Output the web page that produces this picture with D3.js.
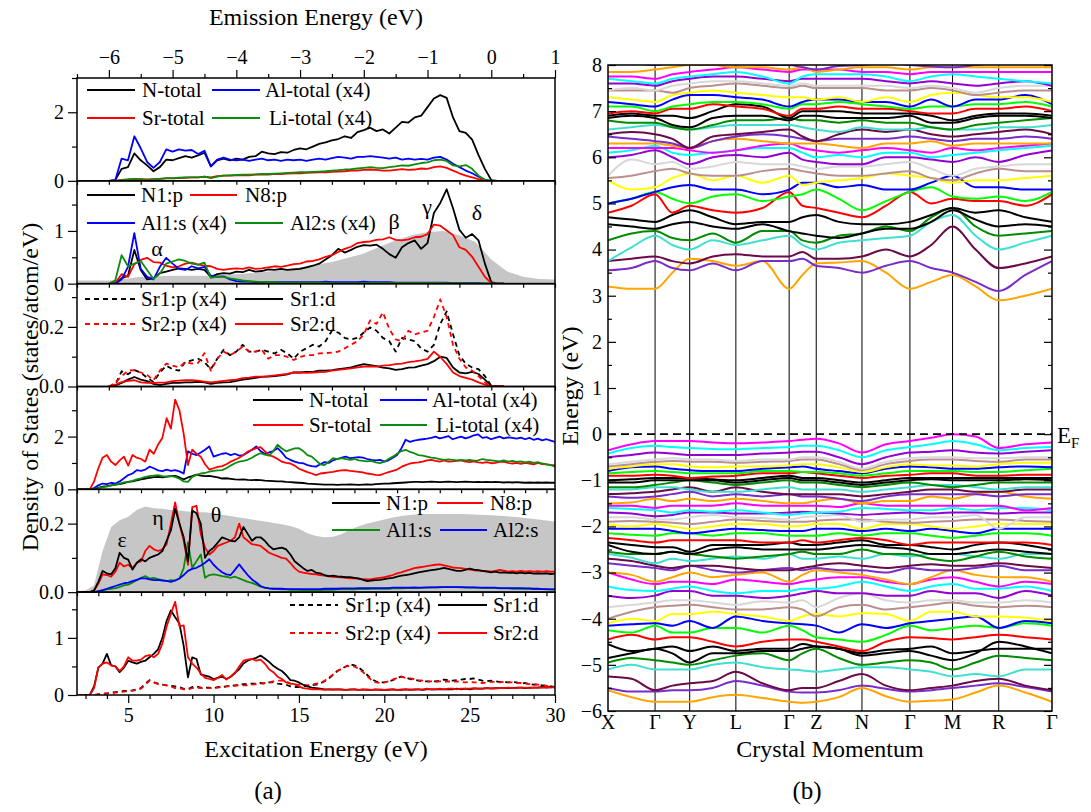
<!DOCTYPE html>
<html>
<head>
<meta charset="utf-8">
<script src="https://cdn.jsdelivr.net/npm/d3@7"></script>
<style>
    body { margin: 0; background: #fff; }
    svg text { font-family: "Liberation Serif", "DejaVu Serif", serif; fill: #000; }
</style>
</head>
<body>
<div id="chart"></div>
<script>

// ---------------- data: emission panels (grid -6.0 .. 0.2 eV, step 0.1) ----------------
const emStart = -6.0, emStep = 0.1;

const nTotalEm = [0,0.02,0.35,0.4,0.8,0.6,0.45,0.28,0.4,0.62, 0.6,0.66,0.72,0.68,0.74,0.82,0.42,0.6,0.65,0.6,
    0.65,0.62,0.7,0.72,0.85,0.8,0.78,0.84,0.82,0.9, 0.95,0.92,1.0,1.08,1.12,1.18,1.22,1.3,1.25,1.42,
    1.48,1.55,1.45,1.5,1.38,1.55,1.72,1.7,1.85,1.9, 2.15,2.4,2.5,2.42,1.85,1.45,1.4,1.2,0.75,0.35, 0.02,0,0];
const alTotalEm = [0,0.02,0.65,0.6,1.3,0.95,0.55,0.38,0.55,0.92, 0.85,0.92,0.88,0.9,0.78,0.88,0.42,0.62,0.68,0.62,
    0.6,0.62,0.58,0.62,0.65,0.6,0.62,0.58,0.62,0.6, 0.62,0.58,0.62,0.65,0.62,0.66,0.7,0.68,0.65,0.7,
    0.7,0.72,0.7,0.68,0.65,0.68,0.62,0.65,0.62,0.64, 0.62,0.68,0.7,0.62,0.5,0.4,0.3,0.22,0.12,0.03, 0,0,0];
const srTotalEm = [0,0,0.03,0.04,0.06,0.05,0.04,0.05,0.06,0.07, 0.07,0.08,0.09,0.1,0.1,0.12,0.1,0.14,0.15,0.15,
    0.16,0.17,0.16,0.18,0.19,0.18,0.2,0.2,0.21,0.22, 0.22,0.23,0.24,0.25,0.25,0.26,0.27,0.28,0.3,0.3,
    0.32,0.33,0.32,0.3,0.3,0.32,0.34,0.32,0.33,0.36, 0.35,0.4,0.42,0.38,0.3,0.22,0.15,0.1,0.05,0.02, 0,0,0];
const liTotalEm = [0,0,0.02,0.04,0.05,0.04,0.03,0.04,0.06,0.08, 0.08,0.09,0.1,0.1,0.1,0.12,0.08,0.12,0.15,0.16,
    0.17,0.18,0.18,0.19,0.2,0.2,0.21,0.22,0.23,0.24, 0.25,0.25,0.26,0.27,0.28,0.3,0.31,0.33,0.34,0.36,
    0.38,0.4,0.38,0.37,0.4,0.42,0.45,0.44,0.48,0.52, 0.54,0.6,0.62,0.58,0.45,0.42,0.46,0.35,0.15,0.03, 0,0,0];

const n1pEm = [0,0.01,0.1,0.15,0.64,0.26,0.08,0.1,0.2,0.23, 0.26,0.29,0.28,0.26,0.28,0.26,0.13,0.18,0.2,0.19,
    0.23,0.22,0.26,0.23,0.24,0.27,0.26,0.28,0.26,0.27, 0.28,0.31,0.34,0.38,0.46,0.54,0.66,0.59,0.64,0.7,
    0.73,0.72,0.74,0.66,0.56,0.49,0.69,0.77,0.82,0.66, 0.77,1.34,1.53,1.79,1.43,1.02,0.87,0.94,0.82,0.38, 0.03,0,0];
const n8pEm = [0,0.01,0.18,0.13,0.37,0.45,0.49,0.41,0.4,0.34, 0.31,0.33,0.38,0.4,0.36,0.34,0.33,0.28,0.26,0.28,
    0.29,0.28,0.31,0.28,0.29,0.31,0.33,0.32,0.34,0.37, 0.38,0.42,0.43,0.46,0.51,0.54,0.6,0.66,0.7,0.77,
    0.79,0.8,0.83,0.84,0.88,0.83,0.82,0.84,0.88,0.89, 0.94,1.12,1.1,1.01,0.92,0.69,0.64,0.51,0.32,0.13, 0.01,0,0];
const al1sEm = [0,0,0.08,0.32,0.96,0.28,0.13,0.08,0.32,0.49, 0.38,0.28,0.26,0.33,0.29,0.32,0.15,0.13,0.14,0.08,
    0.05,0.04,0.04,0.03,0.03,0.03,0.03,0.03,0.03,0.03, 0.03,0.03,0.03,0.03,0.04,0.03,0.03,0.03,0.03,0.03,
    0.04,0.03,0.03,0.03,0.03,0.02,0.02,0.02,0.02,0.02, 0.02,0.02,0.02,0.02,0.01,0.01,0.01,0.01,0.01,0, 0,0,0];
const al2sEm = [0,0.06,0.54,0.33,0.38,0.43,0.26,0.09,0.19,0.38, 0.42,0.46,0.43,0.38,0.36,0.4,0.11,0.14,0.13,0.1,
    0.08,0.06,0.05,0.04,0.03,0.03,0.03,0.02,0.02,0.02, 0.02,0.02,0.02,0.02,0.02,0.01,0.01,0.01,0.01,0.01,
    0.013,0.013,0.013,0.013,0.013,0.013,0.013,0.013,0.013,0.013, 0.013,0.013,0.013,0.01,0.01,0.008,0.006,0.005,0.004,0.003, 0,0,0];

const sr1pEm = [0,0.006,0.051,0.041,0.055,0.047,0.029,0.015,0.047,0.07, 0.058,0.053,0.082,0.088,0.093,0.082,0.058,0.093,0.123,0.105,
    0.117,0.14,0.117,0.117,0.123,0.117,0.111,0.123,0.111,0.093, 0.117,0.128,0.14,0.134,0.152,0.187,0.181,0.163,0.158,0.163,
    0.181,0.198,0.187,0.163,0.152,0.117,0.163,0.158,0.152,0.128, 0.117,0.14,0.21,0.252,0.175,0.105,0.076,0.064,0.058,0.035, 0.002,0,0];
const sr2pEm = [0,0.012,0.035,0.053,0.055,0.047,0.039,0.021,0.053,0.077, 0.07,0.064,0.082,0.077,0.079,0.112,0.053,0.093,0.117,0.105,
    0.117,0.134,0.117,0.117,0.123,0.093,0.105,0.105,0.099,0.089, 0.099,0.105,0.105,0.111,0.112,0.114,0.117,0.128,0.14,0.152,
    0.175,0.222,0.21,0.249,0.193,0.158,0.152,0.187,0.175,0.181, 0.187,0.233,0.292,0.233,0.14,0.093,0.064,0.053,0.035,0.014, 0,0,0];
const sr1dEm = [0,0.004,0.012,0.023,0.032,0.023,0.018,0.009,0.005,0.009, 0.012,0.012,0.014,0.014,0.016,0.014,0.009,0.012,0.014,0.015,
    0.019,0.023,0.026,0.029,0.032,0.033,0.035,0.037,0.041,0.047, 0.047,0.049,0.049,0.053,0.053,0.055,0.058,0.061,0.064,0.07,
    0.075,0.072,0.068,0.063,0.061,0.056,0.058,0.063,0.064,0.07, 0.075,0.085,0.1,0.096,0.064,0.047,0.044,0.049,0.042,0.023, 0.002,0,0];
const sr2dEm = [0,0.006,0.015,0.019,0.021,0.014,0.012,0.012,0.013,0.014, 0.018,0.02,0.021,0.021,0.02,0.016,0.014,0.016,0.019,0.021,
    0.023,0.028,0.03,0.033,0.033,0.035,0.037,0.04,0.042,0.047, 0.047,0.046,0.047,0.048,0.049,0.053,0.056,0.058,0.061,0.064,
    0.067,0.068,0.067,0.07,0.072,0.075,0.077,0.082,0.084,0.088, 0.093,0.117,0.099,0.076,0.047,0.035,0.029,0.023,0.014,0.006, 0,0,0];

// broadened total (grey), grid -6.5 .. 1.0 eV, step 0.25
const greyEmStart = -6.5, greyEmStep = 0.25;
const greyEm = [0.06,0.06,0.06,0.09,0.13,0.14,0.15,0.15,0.15,0.17, 0.18,0.2,0.23,0.27,0.31,0.36,0.41,0.49,0.57,0.7,
    0.82,0.92,0.98,1.0,0.92,0.79,0.46,0.23,0.13,0.09, 0.08];

// ---------------- data: excitation panels (grid 2 .. 30 eV, step 0.25) ----------------
const exStart = 2, exStep = 0.25;

const nTotalEx = [0,0,0,0,0.02,0.06,0.1,0.12, 0.15,0.18,0.2,0.24,0.28,0.3,0.34,0.38, 0.41,0.44,0.46,0.47,0.45,0.48,0.5,0.51,
    0.45,0.38,0.45,0.5,0.56,0.52,0.5,0.51, 0.48,0.45,0.41,0.42,0.4,0.38,0.37,0.38, 0.36,0.35,0.36,0.35,0.33,0.32,0.31,0.3,
    0.3,0.28,0.27,0.26,0.25,0.24,0.22,0.21, 0.2,0.19,0.18,0.18,0.18,0.17,0.18,0.18, 0.19,0.18,0.17,0.18,0.19,0.18,0.2,0.21,
    0.22,0.22,0.23,0.24,0.25,0.26,0.27,0.28, 0.28,0.27,0.28,0.29,0.28,0.27,0.28,0.29, 0.28,0.27,0.28,0.29,0.28,0.27,0.28,0.27,
    0.28,0.27,0.28,0.27,0.26,0.27,0.26,0.27, 0.26,0.25,0.26,0.25,0.26,0.25,0.26,0.25, 0.25];
const alTotalEx = [0,0,0,0,0.05,0.15,0.22,0.2, 0.25,0.22,0.3,0.42,0.54,0.6,0.73,0.7, 0.75,0.86,0.8,0.72,0.69,0.75,0.7,0.73,
    0.68,0.6,1.44,1.35,1.3,1.4,1.5,1.63, 1.24,1.3,1.35,1.37,1.3,1.35,1.28,1.3, 1.4,1.5,1.63,1.45,1.35,1.4,1.45,1.56,
    1.4,1.2,1.12,1.05,1.0,0.99,0.92,0.88, 0.86,0.95,1.03,1.0,1.1,1.15,1.2,1.24, 1.18,1.2,1.22,1.2,1.15,1.12,1.1,1.12,
    1.05,1.1,1.2,1.3,1.55,1.88,1.8,1.85, 1.88,1.9,1.92,1.95,2.0,1.93,1.97,2.02, 1.9,1.95,2.0,1.93,1.98,2.05,2.08,1.95,
    1.98,1.9,1.95,2.0,1.93,1.97,1.95,1.92, 1.96,1.9,1.95,1.88,1.92,1.86,1.9,1.85, 1.8];
const srTotalEx = [0,0,0,0,0.3,0.8,1.2,1.3, 1.05,0.92,1.1,1.24,0.9,1.3,1.2,1.15, 1.05,1.5,1.35,1.7,1.95,2.7,2.3,3.4,
    3.0,2.1,0.92,1.5,1.35,1.24,0.95,0.75, 0.8,0.85,0.88,0.95,1.05,1.12,1.2,1.3, 1.43,1.5,1.56,1.6,1.45,1.3,1.24,1.15,
    1.05,1.0,0.98,0.9,0.78,0.72,0.65,0.6, 0.54,0.6,0.62,0.64,0.66,0.7,0.72,0.73, 0.7,0.68,0.66,0.64,0.6,0.58,0.55,0.54,
    0.6,0.65,0.7,0.75,0.85,0.92,0.98,1.0, 1.02,1.05,1.1,1.12,1.08,1.05,1.1,1.05, 1.06,1.08,1.1,1.05,1.03,1.06,1.02,1.0,
    1.03,0.99,1.0,1.04,1.05,1.0,0.98,1.0, 0.97,1.0,0.98,0.95,1.0,0.96,0.95,0.93, 0.92];
const liTotalEx = [0,0,0,0,0.02,0.05,0.08,0.1, 0.15,0.18,0.22,0.26,0.28,0.32,0.38,0.42, 0.47,0.5,0.52,0.54,0.5,0.48,0.5,0.47,
    0.4,0.3,0.28,0.47,0.55,0.6,0.62,0.67, 0.7,0.72,0.73,0.8,0.9,0.99,1.05,1.08, 1.12,1.2,1.3,1.37,1.32,1.28,1.45,1.69,
    1.55,1.44,1.5,1.55,1.56,1.45,1.3,1.24, 1.1,0.95,0.92,1.05,1.18,1.15,1.18,1.15, 1.12,1.15,1.1,1.08,1.06,1.08,1.02,0.99,
    1.05,1.15,1.24,1.35,1.45,1.5,1.42,1.37, 1.3,1.28,1.24,1.2,1.18,1.15,1.12,1.14, 1.12,1.1,1.12,1.1,1.12,1.09,1.1,1.15,
    1.12,1.1,1.08,1.06,1.1,1.05,1.08,1.04, 1.06,1.02,1.05,1.0,1.03,0.98,0.95,0.92, 0.86];

const n1pEx = [0,0,0,0,0.005,0.03,0.062,0.055, 0.052,0.07,0.115,0.1,0.095,0.066,0.085,0.096, 0.09,0.1,0.105,0.11,0.12,0.15,0.18,0.243,
    0.2,0.16,0.09,0.238,0.23,0.2,0.1,0.12, 0.13,0.145,0.16,0.155,0.15,0.148,0.16,0.19, 0.17,0.15,0.16,0.16,0.15,0.135,0.125,0.128,
    0.13,0.125,0.11,0.09,0.08,0.07,0.062,0.065, 0.057,0.055,0.05,0.047,0.048,0.046,0.045,0.044, 0.044,0.042,0.04,0.036,0.032,0.034,0.035,0.036,
    0.038,0.04,0.042,0.045,0.048,0.05,0.052,0.055, 0.058,0.06,0.062,0.064,0.066,0.068,0.071,0.068, 0.065,0.062,0.062,0.065,0.069,0.066,0.064,0.062,
    0.06,0.058,0.06,0.057,0.058,0.056,0.057,0.055, 0.057,0.055,0.056,0.054,0.055,0.054,0.055,0.053, 0.054];
const n8pEx = [0,0,0,0,0.004,0.025,0.052,0.05, 0.045,0.06,0.086,0.075,0.08,0.07,0.086,0.09, 0.12,0.135,0.125,0.12,0.125,0.14,0.2,0.262,
    0.2,0.15,0.08,0.248,0.252,0.17,0.13,0.11, 0.12,0.135,0.14,0.145,0.15,0.16,0.2,0.16, 0.15,0.14,0.138,0.135,0.125,0.115,0.11,0.105,
    0.1,0.098,0.085,0.07,0.06,0.057,0.055,0.053, 0.052,0.05,0.048,0.046,0.045,0.044,0.043,0.042, 0.04,0.04,0.039,0.038,0.037,0.038,0.04,0.042,
    0.044,0.047,0.05,0.055,0.058,0.062,0.066,0.07, 0.072,0.074,0.076,0.078,0.08,0.081,0.078,0.075, 0.072,0.071,0.07,0.068,0.066,0.064,0.063,0.062,
    0.062,0.06,0.062,0.065,0.063,0.06,0.061,0.06, 0.062,0.06,0.061,0.06,0.061,0.06,0.061,0.06, 0.06];
const al1sEx = [0,0,0,0,0,0.002,0.005,0.008, 0.01,0.012,0.015,0.02,0.022,0.028,0.035,0.042, 0.047,0.04,0.042,0.038,0.035,0.032,0.035,0.034,
    0.04,0.07,0.145,0.071,0.09,0.11,0.042,0.05, 0.052,0.05,0.047,0.045,0.042,0.045,0.04,0.035, 0.03,0.027,0.022,0.016,0.013,0.011,0.01,0.009,
    0.008,0.008,0.007,0.007,0.007,0.006,0.006,0.006, 0.006,0.006,0.007,0.007,0.007,0.008,0.008,0.008, 0.008,0.008,0.009,0.009,0.009,0.01,0.01,0.01,
    0.01,0.01,0.011,0.011,0.011,0.012,0.012,0.012, 0.012,0.013,0.013,0.014,0.014,0.014,0.015,0.015, 0.015,0.015,0.014,0.014,0.013,0.013,0.013,0.012,
    0.012,0.012,0.012,0.011,0.011,0.011,0.01,0.01, 0.01,0.01,0.01,0.009,0.009,0.009,0.008,0.008, 0.008];
const al2sEx = [0,0,0,0,0,0.003,0.006,0.01, 0.014,0.018,0.022,0.026,0.028,0.032,0.036,0.04, 0.04,0.037,0.035,0.036,0.034,0.033,0.03,0.034,
    0.04,0.05,0.062,0.068,0.071,0.078,0.086,0.096, 0.08,0.068,0.058,0.052,0.05,0.065,0.081,0.065, 0.05,0.037,0.028,0.018,0.013,0.011,0.01,0.01,
    0.01,0.009,0.009,0.009,0.009,0.009,0.009,0.009, 0.009,0.009,0.01,0.01,0.01,0.01,0.011,0.011, 0.011,0.011,0.012,0.012,0.012,0.012,0.012,0.012,
    0.012,0.012,0.013,0.013,0.013,0.013,0.013,0.014, 0.013,0.013,0.014,0.014,0.014,0.015,0.015,0.015, 0.015,0.015,0.015,0.014,0.014,0.014,0.013,0.013,
    0.013,0.013,0.013,0.012,0.012,0.012,0.012,0.012, 0.012,0.011,0.011,0.01,0.01,0.009,0.009,0.008, 0.008];

// broadened total (grey), grid 2 .. 30 eV, step 0.5
const greyExStart = 2, greyExStep = 0.5;
const greyEx = [0.003,0.005,0.02,0.12,0.19,0.21,0.22,0.24,0.25,0.245, 0.243,0.24,0.238,0.235,0.233,0.233,0.23,0.226,0.222,0.218,
    0.214,0.21,0.206,0.202,0.198,0.193,0.185,0.172,0.164,0.16, 0.162,0.17,0.182,0.192,0.2,0.206,0.212,0.218,0.222,0.225,
    0.227,0.228,0.228,0.228,0.228,0.228,0.227,0.226,0.225,0.224, 0.222,0.22,0.218,0.215,0.212,0.209,0.206];

const sr1pEx = [0,0,0,0,0,0.01,0.02,0.03, 0.04,0.05,0.06,0.07,0.07,0.08,0.1,0.12, 0.2,0.26,0.22,0.2,0.18,0.17,0.16,0.15,
    0.14,0.11,0.1,0.14,0.15,0.13,0.13,0.13, 0.12,0.14,0.14,0.15,0.16,0.17,0.18,0.19, 0.19,0.2,0.2,0.21,0.2,0.22,0.22,0.2,
    0.19,0.18,0.15,0.14,0.14,0.15,0.16,0.17, 0.18,0.2,0.24,0.29,0.35,0.42,0.46,0.5, 0.54,0.52,0.48,0.42,0.35,0.28,0.24,0.22,
    0.22,0.24,0.26,0.3,0.32,0.31,0.28,0.27, 0.25,0.24,0.24,0.23,0.24,0.25,0.27,0.26, 0.25,0.26,0.27,0.28,0.28,0.29,0.27,0.25,
    0.24,0.25,0.24,0.23,0.23,0.22,0.23,0.22, 0.2,0.21,0.19,0.18,0.18,0.17,0.16,0.15, 0.14];
const sr2pEx = [0,0,0,0,0,0.01,0.02,0.025, 0.03,0.04,0.05,0.06,0.065,0.075,0.09,0.11, 0.18,0.25,0.22,0.19,0.18,0.17,0.15,0.12,
    0.12,0.1,0.1,0.12,0.13,0.12,0.12,0.12, 0.12,0.13,0.14,0.15,0.16,0.16,0.17,0.17, 0.17,0.18,0.19,0.2,0.21,0.22,0.24,0.25,
    0.25,0.24,0.2,0.18,0.18,0.18,0.17,0.18, 0.2,0.21,0.25,0.3,0.36,0.42,0.46,0.5, 0.51,0.5,0.46,0.4,0.33,0.26,0.22,0.21,
    0.22,0.24,0.27,0.3,0.32,0.3,0.29,0.28, 0.26,0.25,0.24,0.24,0.23,0.24,0.23,0.24, 0.23,0.24,0.23,0.22,0.23,0.22,0.22,0.21,
    0.22,0.23,0.23,0.22,0.23,0.22,0.22,0.21, 0.21,0.2,0.19,0.19,0.18,0.17,0.16,0.15, 0.13];
const sr1dEx = [0,0,0,0,0.15,0.48,0.55,0.72, 0.52,0.5,0.4,0.48,0.6,0.57,0.55,0.58, 0.6,0.66,0.72,0.8,1.0,1.3,1.48,1.36,
    1.25,0.86,0.31,0.66,0.63,0.36,0.34,0.32, 0.28,0.3,0.32,0.28,0.32,0.39,0.45,0.55, 0.6,0.63,0.65,0.69,0.64,0.58,0.51,0.46,
    0.42,0.35,0.26,0.25,0.22,0.18,0.15,0.13, 0.12,0.11,0.1,0.1,0.1,0.1,0.1,0.09, 0.1,0.1,0.09,0.1,0.09,0.09,0.1,0.09,
    0.09,0.09,0.1,0.09,0.09,0.1,0.09,0.1, 0.1,0.09,0.1,0.1,0.1,0.1,0.1,0.1, 0.1,0.11,0.1,0.11,0.1,0.11,0.11,0.11,
    0.12,0.11,0.12,0.12,0.12,0.12,0.12,0.13, 0.13,0.12,0.13,0.13,0.13,0.14,0.13,0.14, 0.14];
const sr2dEx = [0,0,0,0,0.12,0.48,0.55,0.57, 0.52,0.5,0.42,0.5,0.66,0.6,0.6,0.62, 0.68,0.7,0.66,0.72,0.9,1.2,1.42,1.63,
    1.2,1.22,0.66,0.55,0.48,0.38,0.3,0.28, 0.26,0.3,0.35,0.27,0.32,0.38,0.5,0.6, 0.62,0.63,0.6,0.62,0.55,0.45,0.4,0.32,
    0.28,0.22,0.2,0.19,0.15,0.12,0.11,0.1, 0.1,0.1,0.09,0.1,0.09,0.1,0.09,0.09, 0.09,0.1,0.09,0.09,0.1,0.09,0.09,0.1,
    0.09,0.1,0.1,0.09,0.1,0.1,0.1,0.09, 0.1,0.1,0.11,0.1,0.1,0.11,0.1,0.11, 0.11,0.1,0.11,0.11,0.11,0.12,0.11,0.11,
    0.12,0.12,0.11,0.12,0.12,0.13,0.12,0.12, 0.13,0.13,0.12,0.13,0.13,0.13,0.14,0.13, 0.14];

// ---------------- data: band structure ----------------
const kLabels = ["X", "Γ", "Y", "L", "Γ", "Z", "N", "Γ", "M", "R", "Γ"];
const kPos = [0, .053, .106, .145, .184, .236, .288, .348, .408, .438, .469, .520, .572, .626, .680, .728, .776, .828, .880, .940, 1.0];

// colour cycle of the bands, bottom to top
const bandColors = ["#ffa500", "#7a2cc8", "#6b0a48", "#40e0d0", "#008b00", "#000000", "#000000", "#ff0000",
    "#00ff00", "#0000ff", "#ffff00", "#bc8f8f", "#d8d8d8", "#9400d3", "#00ffff", "#ff00ff"];

const valenceBands = [
    [-5.55,-5.7,-5.8,-5.8,-5.8,-5.7,-5.65,-5.72,-5.8,-5.82,-5.8,-5.7,-5.5,-5.68,-5.8,-5.78,-5.75,-5.6,-5.45,-5.6,-5.8],
    [-5.5,-5.58,-5.58,-5.55,-5.55,-5.5,-5.35,-5.45,-5.58,-5.6,-5.6,-5.55,-5.45,-5.52,-5.58,-5.55,-5.5,-5.45,-5.4,-5.48,-5.58],
    [-5.25,-5.3,-5.55,-5.45,-5.4,-5.35,-5.15,-5.4,-5.55,-5.5,-5.5,-5.35,-5.2,-5.45,-5.55,-5.5,-5.45,-5.35,-5.3,-5.45,-5.55],
    [-5.1,-5.0,-5.1,-5.1,-5.1,-5.0,-4.95,-5.05,-5.1,-5.12,-5.15,-5.1,-5.05,-5.05,-5.1,-5.15,-5.25,-5.2,-5.25,-5.1,-5.1],
    [-4.95,-4.85,-4.9,-4.95,-5.0,-4.9,-4.8,-4.75,-4.9,-4.75,-4.65,-4.85,-5.0,-4.95,-4.9,-4.95,-5.1,-4.95,-4.8,-4.85,-4.9],
    [-4.85,-4.75,-4.65,-4.75,-4.95,-4.75,-4.75,-4.7,-4.7,-4.65,-4.6,-4.65,-4.8,-4.75,-4.7,-4.8,-4.9,-4.75,-4.5,-4.6,-4.75],
    [-4.55,-4.7,-4.65,-4.6,-4.7,-4.6,-4.7,-4.65,-4.65,-4.55,-4.6,-4.65,-4.75,-4.68,-4.65,-4.6,-4.75,-4.7,-4.65,-4.65,-4.65],
    [-4.45,-4.35,-4.45,-4.4,-4.4,-4.5,-4.6,-4.5,-4.45,-4.45,-4.5,-4.6,-4.7,-4.5,-4.4,-4.42,-4.45,-4.4,-4.35,-4.4,-4.45],
    [-4.25,-4.3,-4.15,-4.3,-4.3,-4.2,-4.2,-4.3,-4.15,-4.25,-4.4,-4.45,-4.5,-4.35,-4.15,-4.25,-4.2,-4.15,-4.2,-4.1,-4.15],
    [-4.15,-4.12,-4.1,-4.15,-4.05,-4.2,-3.95,-4.05,-4.1,-4.12,-4.15,-4.3,-4.12,-4.2,-4.1,-4.05,-4.0,-3.95,-4.2,-4.05,-4.1],
    [-4.1,-4.0,-4.05,-3.9,-3.9,-3.85,-3.9,-3.95,-4.05,-3.95,-3.9,-3.95,-3.88,-3.9,-4.05,-3.85,-3.85,-3.95,-3.95,-3.98,-4.05],
    [-4.0,-3.85,-3.75,-3.72,-3.7,-3.75,-3.8,-3.8,-3.75,-3.8,-3.95,-3.75,-3.7,-3.8,-3.75,-3.7,-3.65,-3.72,-3.75,-3.72,-3.75],
    [-3.75,-3.7,-3.65,-3.6,-3.6,-3.65,-3.7,-3.62,-3.65,-3.6,-3.75,-3.55,-3.45,-3.6,-3.65,-3.6,-3.6,-3.65,-3.65,-3.6,-3.65],
    [-3.5,-3.55,-3.5,-3.4,-3.4,-3.5,-3.5,-3.55,-3.5,-3.45,-3.4,-3.45,-3.45,-3.5,-3.5,-3.4,-3.45,-3.45,-3.55,-3.4,-3.5],
    [-3.3,-3.38,-3.4,-3.35,-3.3,-3.4,-3.45,-3.4,-3.4,-3.35,-3.35,-3.3,-3.2,-3.3,-3.4,-3.3,-3.25,-3.35,-3.35,-3.3,-3.4],
    [-3.0,-3.15,-3.25,-3.2,-3.2,-3.25,-3.15,-3.2,-3.25,-3.2,-3.15,-3.1,-3.1,-3.2,-3.25,-3.15,-3.1,-3.2,-3.3,-3.2,-3.25],
    [-3.0,-3.05,-3.2,-3.1,-3.0,-3.1,-3.05,-3.0,-3.2,-3.05,-2.95,-3.0,-3.05,-3.15,-3.25,-3.1,-2.95,-3.05,-3.1,-3.1,-3.2],
    [-2.8,-2.85,-2.9,-2.95,-2.85,-2.95,-3.0,-2.95,-2.9,-2.95,-2.9,-2.95,-2.95,-3.0,-2.9,-2.95,-2.95,-2.9,-2.85,-2.95,-2.95],
    [-2.7,-2.75,-2.85,-2.9,-2.85,-2.85,-2.9,-2.95,-2.95,-2.9,-2.85,-2.8,-2.85,-2.9,-2.85,-2.82,-2.85,-2.85,-2.8,-2.85,-2.9],
    [-2.6,-2.68,-2.8,-2.7,-2.75,-2.7,-2.65,-2.7,-2.6,-2.7,-2.7,-2.65,-2.7,-2.6,-2.65,-2.6,-2.6,-2.65,-2.7,-2.6,-2.6],
    [-2.55,-2.6,-2.6,-2.55,-2.6,-2.65,-2.7,-2.65,-2.6,-2.55,-2.6,-2.6,-2.5,-2.6,-2.6,-2.7,-2.75,-2.65,-2.55,-2.65,-2.7],
    [-2.4,-2.55,-2.6,-2.55,-2.6,-2.5,-2.45,-2.5,-2.5,-2.5,-2.5,-2.45,-2.4,-2.45,-2.5,-2.6,-2.6,-2.55,-2.5,-2.55,-2.6],
    [-2.35,-2.4,-2.45,-2.45,-2.55,-2.4,-2.4,-2.4,-2.35,-2.4,-2.4,-2.35,-2.3,-2.4,-2.4,-2.45,-2.5,-2.4,-2.35,-2.4,-2.5],
    [-2.25,-2.3,-2.35,-2.3,-2.3,-2.3,-2.3,-2.35,-2.35,-2.3,-2.35,-2.3,-2.25,-2.3,-2.4,-2.35,-2.35,-2.35,-2.35,-2.35,-2.4],
    [-2.15,-2.18,-2.2,-2.15,-2.15,-2.2,-2.15,-2.15,-2.2,-2.2,-2.2,-2.15,-2.2,-2.15,-2.15,-2.2,-2.25,-2.2,-2.15,-2.15,-2.2],
    [-2.05,-2.05,-2.05,-2.1,-2.15,-2.1,-2.05,-2.08,-2.1,-2.1,-2.05,-2.05,-2.1,-2.05,-2.1,-2.05,-2.1,-2.15,-2.05,-2.05,-2.05],
    [-1.95,-2.0,-1.95,-2.0,-2.05,-2.0,-1.95,-1.95,-2.0,-1.98,-1.95,-1.95,-2.05,-1.95,-1.95,-2.0,-2.05,-2.0,-1.95,-1.95,-1.95],
    [-1.9,-1.88,-1.9,-1.92,-1.95,-1.9,-1.85,-1.88,-1.9,-1.9,-1.88,-1.85,-1.85,-1.9,-1.92,-1.9,-1.88,-1.85,-1.85,-1.88,-1.9],
    [-1.8,-1.8,-1.85,-1.85,-1.8,-1.75,-1.8,-1.82,-1.85,-1.8,-1.78,-1.75,-1.9,-1.85,-1.85,-1.8,-1.8,-1.75,-2.05,-1.8,-1.8],
    [-1.7,-1.72,-1.78,-1.75,-1.7,-1.7,-1.72,-1.72,-1.7,-1.68,-1.7,-1.72,-1.75,-1.72,-1.7,-1.72,-1.7,-1.7,-1.72,-1.7,-1.7],
    [-1.6,-1.62,-1.65,-1.7,-1.65,-1.68,-1.65,-1.7,-1.75,-1.72,-1.7,-1.68,-1.6,-1.62,-1.65,-1.65,-1.6,-1.65,-1.6,-1.6,-1.65],
    [-1.55,-1.55,-1.6,-1.55,-1.55,-1.55,-1.5,-1.55,-1.55,-1.55,-1.55,-1.58,-1.5,-1.55,-1.55,-1.55,-1.55,-1.55,-1.55,-1.65,-1.6],
    [-1.5,-1.48,-1.4,-1.45,-1.4,-1.45,-1.4,-1.45,-1.5,-1.5,-1.45,-1.4,-1.5,-1.45,-1.45,-1.35,-1.4,-1.3,-1.25,-1.35,-1.4],
    [-1.35,-1.38,-1.35,-1.3,-1.25,-1.35,-1.3,-1.35,-1.3,-1.35,-1.35,-1.4,-1.45,-1.35,-1.3,-1.3,-1.3,-1.3,-1.35,-1.3,-1.3],
    [-1.3,-1.28,-1.25,-1.2,-1.15,-1.25,-1.15,-1.25,-1.3,-1.3,-1.3,-1.3,-1.35,-1.3,-1.25,-1.2,-1.2,-1.25,-1.25,-1.2,-1.2],
    [-1.2,-1.2,-1.15,-1.15,-1.2,-1.25,-1.25,-1.2,-1.15,-1.2,-1.2,-1.2,-1.25,-1.2,-1.15,-1.1,-1.1,-1.15,-1.2,-1.15,-1.15],
    [-1.15,-1.15,-1.1,-1.05,-1.0,-1.05,-1.1,-1.05,-1.0,-1.05,-1.05,-1.1,-1.15,-1.1,-1.05,-1.1,-1.15,-1.1,-1.05,-1.05,-1.05],
    [-1.05,-1.05,-1.0,-1.0,-1.0,-1.0,-1.05,-1.0,-0.95,-1.0,-1.0,-1.05,-1.1,-1.05,-1.0,-0.98,-1.0,-1.0,-1.0,-0.98,-1.0],
    [-1.0,-0.98,-0.95,-0.95,-0.95,-0.98,-1.0,-0.95,-0.9,-0.95,-0.95,-1.0,-1.05,-1.0,-0.95,-0.95,-0.95,-0.95,-0.95,-0.95,-0.95],
    [-0.9,-0.9,-0.88,-0.9,-0.95,-0.92,-0.9,-0.85,-0.85,-0.82,-0.85,-0.9,-0.95,-0.9,-0.88,-0.85,-0.85,-0.9,-0.9,-0.88,-0.88],
    [-0.85,-0.82,-0.8,-0.82,-0.85,-0.85,-0.85,-0.8,-0.8,-0.82,-0.82,-0.85,-0.9,-0.85,-0.8,-0.8,-0.8,-0.82,-0.82,-0.78,-0.75],
    [-0.8,-0.72,-0.7,-0.75,-0.78,-0.8,-0.8,-0.75,-0.72,-0.7,-0.75,-0.8,-0.85,-0.75,-0.7,-0.72,-0.75,-0.75,-0.72,-0.7,-0.72],
    [-0.75,-0.7,-0.65,-0.65,-0.7,-0.72,-0.7,-0.7,-0.68,-0.65,-0.65,-0.72,-0.82,-0.72,-0.65,-0.68,-0.68,-0.7,-0.65,-0.62,-0.62],
    [-0.7,-0.65,-0.6,-0.58,-0.6,-0.6,-0.62,-0.6,-0.58,-0.55,-0.55,-0.65,-0.78,-0.65,-0.58,-0.55,-0.55,-0.58,-0.6,-0.55,-0.55],
    [-0.65,-0.6,-0.55,-0.52,-0.55,-0.55,-0.58,-0.55,-0.55,-0.5,-0.5,-0.6,-0.75,-0.6,-0.52,-0.5,-0.5,-0.52,-0.52,-0.5,-0.5],
    [-0.5,-0.45,-0.4,-0.42,-0.45,-0.45,-0.45,-0.42,-0.4,-0.38,-0.38,-0.5,-0.65,-0.5,-0.4,-0.38,-0.35,-0.4,-0.42,-0.38,-0.35],
    [-0.42,-0.3,-0.25,-0.28,-0.3,-0.32,-0.33,-0.3,-0.28,-0.25,-0.25,-0.35,-0.5,-0.35,-0.28,-0.22,-0.15,-0.22,-0.35,-0.3,-0.28],
    [-0.35,-0.22,-0.15,-0.15,-0.15,-0.18,-0.2,-0.18,-0.15,-0.12,-0.1,-0.2,-0.4,-0.22,-0.15,-0.08,0.0,-0.05,-0.3,-0.22,-0.18]
];

const conductionBands = [
    [3.2,3.15,3.15,3.5,3.8,3.75,3.65,3.75,3.15,3.45,3.7,3.72,3.75,3.5,3.15,3.3,3.45,3.2,2.9,3.0,3.15],
    [3.55,3.6,3.75,3.6,3.55,3.7,3.55,3.75,3.75,3.8,3.65,3.6,3.5,3.65,3.75,3.6,3.5,3.3,3.1,3.45,3.75],
    [3.75,3.8,3.85,3.75,3.7,3.85,3.9,3.85,3.85,3.95,3.8,3.8,3.85,4.0,3.85,4.1,4.5,4.0,3.6,3.7,3.85],
    [3.75,4.05,4.3,4.1,4.0,4.2,4.1,4.2,4.3,4.1,4.0,4.15,4.2,4.25,4.3,4.6,4.75,4.3,4.0,4.15,4.3],
    [4.2,4.35,4.4,4.25,4.2,4.35,4.15,4.4,4.4,4.2,4.15,4.3,4.35,4.5,4.4,4.7,4.9,4.5,4.3,4.35,4.4],
    [4.55,4.5,4.45,4.55,4.6,4.5,4.45,4.55,4.4,4.35,4.3,4.25,4.35,4.45,4.45,4.6,4.85,4.65,4.5,4.55,4.5],
    [4.7,4.65,4.6,4.75,4.85,4.7,4.55,4.6,4.6,4.7,4.75,4.6,4.55,4.55,4.6,4.75,4.9,4.8,4.85,4.7,4.6],
    [4.8,4.95,5.2,4.8,4.95,4.85,4.8,4.9,5.25,4.95,4.9,4.8,4.7,4.95,5.25,5.0,5.1,5.05,5.05,4.95,5.2],
    [5.0,5.1,5.25,5.1,5.0,5.15,5.2,5.05,5.15,5.2,5.3,5.1,4.85,5.05,5.25,5.35,5.15,5.1,5.15,5.05,5.25],
    [5.0,5.1,5.25,5.35,5.4,5.3,5.3,5.2,5.3,5.45,5.45,5.35,5.4,5.3,5.3,5.45,5.6,5.35,5.35,5.3,5.3],
    [5.5,5.3,5.35,5.55,5.65,5.5,5.6,5.45,5.6,5.4,5.45,5.5,5.55,5.65,5.6,5.55,5.45,5.5,5.5,5.55,5.6],
    [5.55,5.6,5.7,5.75,5.65,5.6,5.6,5.7,5.75,5.7,5.65,5.6,5.6,5.65,5.7,5.55,5.5,5.65,5.75,5.7,5.7],
    [5.6,5.95,5.85,5.9,5.75,5.8,5.9,5.85,5.85,5.8,5.75,5.8,5.8,5.85,5.9,5.75,5.6,5.75,5.8,5.85,5.85],
    [6.0,6.05,6.15,6.0,5.85,6.0,6.05,6.0,6.1,5.95,5.9,5.85,5.85,6.0,6.0,5.95,5.9,6.0,5.9,6.05,6.15],
    [6.1,6.15,6.25,6.1,6.05,6.1,6.15,6.2,6.2,6.1,6.0,6.05,6.0,6.1,6.1,6.0,6.05,6.1,6.15,6.2,6.25],
    [6.2,6.2,6.2,6.2,6.15,6.1,6.15,6.25,6.3,6.2,6.15,6.1,6.15,6.2,6.15,6.1,6.2,6.15,6.2,6.25,6.3],
    [6.3,6.3,6.3,6.25,6.2,6.35,6.4,6.35,6.3,6.3,6.3,6.25,6.2,6.3,6.3,6.35,6.25,6.3,6.3,6.3,6.3],
    [6.45,6.4,6.35,6.3,6.2,6.35,6.45,6.5,6.45,6.4,6.35,6.4,6.4,6.4,6.45,6.4,6.35,6.4,6.4,6.45,6.4],
    [6.5,6.55,6.5,6.4,6.2,6.45,6.5,6.55,6.6,6.45,6.35,6.5,6.6,6.55,6.6,6.5,6.45,6.5,6.55,6.6,6.5],
    [6.6,6.65,6.7,6.65,6.6,6.65,6.7,6.7,6.7,6.65,6.6,6.55,6.65,6.6,6.6,6.65,6.6,6.6,6.65,6.65,6.7],
    [6.8,6.75,6.75,6.65,6.6,6.7,6.8,6.8,6.85,6.8,6.8,6.75,6.8,6.75,6.75,6.65,6.6,6.7,6.75,6.8,6.85],
    [6.85,6.9,6.85,6.7,6.65,6.85,6.9,6.9,6.8,6.9,6.9,6.85,6.85,6.85,6.9,6.75,6.75,6.85,6.9,6.9,6.85],
    [6.9,6.95,6.9,6.9,6.85,7.0,7.15,7.1,6.85,7.0,7.0,7.0,6.95,6.95,6.95,6.9,6.8,6.9,6.95,6.95,6.9],
    [6.95,7.0,6.95,7.05,7.05,7.15,7.1,7.05,6.9,7.05,7.05,7.1,7.05,7.05,7.0,6.95,6.95,7.05,7.05,7.1,7.0],
    [7.1,7.1,7.0,7.1,7.15,7.2,7.2,7.15,7.05,7.15,7.15,7.2,7.15,7.1,7.05,7.1,7.1,7.15,7.15,7.2,7.1],
    [7.2,7.15,7.1,7.25,7.35,7.35,7.3,7.25,7.1,7.2,7.25,7.25,7.2,7.2,7.1,7.25,7.1,7.25,7.25,7.35,7.15],
    [7.3,7.25,7.2,7.35,7.4,7.45,7.4,7.35,7.3,7.3,7.25,7.3,7.2,7.3,7.2,7.35,7.4,7.35,7.3,7.3,7.2],
    [7.45,7.45,7.45,7.4,7.5,7.55,7.6,7.55,7.5,7.55,7.5,7.5,7.5,7.45,7.45,7.5,7.45,7.35,7.4,7.45,7.45],
    [7.45,7.5,7.45,7.55,7.6,7.65,7.65,7.6,7.55,7.6,7.55,7.55,7.55,7.55,7.5,7.55,7.5,7.4,7.5,7.55,7.55],
    [7.6,7.6,7.55,7.65,7.7,7.75,7.75,7.7,7.65,7.7,7.7,7.7,7.7,7.65,7.6,7.65,7.6,7.55,7.6,7.65,7.55],
    [7.7,7.65,7.6,7.7,7.75,7.8,7.85,7.75,7.6,7.75,7.8,7.8,7.8,7.75,7.65,7.75,7.8,7.75,7.7,7.65,7.6],
    [7.75,7.75,7.7,7.8,7.85,7.9,7.95,7.9,7.85,7.9,7.9,7.9,7.85,7.85,7.8,7.85,7.85,7.85,7.85,7.85,7.85],
    [7.85,7.85,7.9,7.95,8.0,8.0,7.95,7.95,7.9,7.95,7.85,7.9,7.95,7.95,7.9,7.95,7.95,7.95,7.95,7.95,7.95],
    [8.1,8.05,8.0,8.05,8.1,8.1,8.05,8.0,8.0,7.95,7.9,7.98,8.0,8.05,8.0,7.97,7.95,8.0,8.05,8.1,8.05]
];

// ---------------- drawing ----------------
const col = { black: "#000000", red: "#ff0000", blue: "#0000ff", green: "#0c8c0c" };
const serif = "'Liberation Serif', 'DejaVu Serif', serif";

const svg = d3.select("#chart").append("svg")
    .attr("width", 1091)
    .attr("height", 812)
    .attr("font-family", serif);

// layout of part (a)
const aLeft = 77, aRight = 555, aTop = 78, aBottom = 695;
const panelH = (aBottom - aTop) / 6;

const xEm = d3.scaleLinear().domain([-6.5, 1]).range([aLeft, aRight]);
const xEx = d3.scaleLinear().domain([2, 30]).range([aLeft, aRight]);

const emGrid = nTotalEm.map((d, i) => emStart + i * emStep);
const exGrid = nTotalEx.map((d, i) => exStart + i * exStep);
const greyEmGrid = greyEm.map((d, i) => greyEmStart + i * greyEmStep);
const greyExGrid = greyEx.map((d, i) => greyExStart + i * greyExStep);

// legend rows: [y, lineStart, lineEnd, textX, label, colour, dashed]
const panels = [
    {x: xEm, grid: emGrid, ymax: 3, major: [0, 2], minor: [1, 3], fmt: d3.format("d"),
        lines: [[nTotalEm, "black"], [alTotalEm, "blue"], [srTotalEm, "red"], [liTotalEm, "green"]],
        legend: [[90, 87, 135, 142, "N-total", "black"], [90, 212, 260, 265, "Al-total (x4)", "blue"],
                 [118, 87, 135, 142, "Sr-total", "red"], [118, 212, 260, 269, "Li-total (x4)", "green"]]},
    {x: xEm, grid: emGrid, ymax: 1.95, major: [0, 1], minor: [0.5, 1.5], fmt: d3.format("d"),
        fill: [greyEm, greyEmGrid],
        lines: [[n1pEm, "black"], [n8pEm, "red"], [al1sEm, "blue"], [al2sEm, "green"]],
        legend: [[195, 87, 135, 141, "N1:p", "black"], [195, 190, 237, 245, "N8:p", "red"],
                 [223, 87, 135, 141, "Al1:s (x4)", "blue"], [223, 235, 283, 290, "Al2:s (x4)", "green"]],
        greek: [["α", 157, 249], ["β", 394, 222], ["γ", 427, 207], ["δ", 477, 213]]},
    {x: xEm, grid: emGrid, ymax: 0.345, major: [0, 0.2], minor: [0.1, 0.3], fmt: d3.format(".1f"),
        lines: [[sr1pEm, "black", true], [sr1dEm, "black"], [sr2pEm, "red", true], [sr2dEm, "red"]],
        legend: [[299, 85, 135, 141, "Sr1:p (x4)", "black", true], [299, 235, 283, 290, "Sr1:d", "black"],
                 [324, 85, 135, 141, "Sr2:p (x4)", "red", true], [324, 235, 283, 290, "Sr2:d", "red"]]},
    {x: xEx, grid: exGrid, ymax: 3.9, major: [0, 2], minor: [1, 3], fmt: d3.format("d"),
        lines: [[nTotalEx, "black"], [alTotalEx, "blue"], [srTotalEx, "red"], [liTotalEx, "green"]],
        legend: [[400, 253, 303, 309, "N-total", "black"], [400, 380, 427, 432, "Al-total (x4)", "blue"],
                 [425, 253, 303, 309, "Sr-total", "red"], [425, 380, 427, 436, "Li-total (x4)", "green"]]},
    {x: xEx, grid: exGrid, ymax: 0.3, major: [0, 0.2], minor: [0.1], fmt: d3.format(".1f"),
        fill: [greyEx, greyExGrid],
        lines: [[al1sEx, "green"], [al2sEx, "blue"], [n8pEx, "red"], [n1pEx, "black"]],
        legend: [[503, 332, 380, 386, "N1:p", "black"], [503, 437, 483, 490, "N8:p", "red"],
                 [530, 332, 380, 386, "Al1:s", "green"], [530, 440, 487, 493, "Al2:s", "blue"]],
        greek: [["ε", 122, 540], ["η", 158, 518], ["θ", 216, 515]]},
    {x: xEx, grid: exGrid, ymax: 1.8, major: [0, 1], minor: [0.5, 1.5], fmt: d3.format("d"),
        lines: [[sr1pEx, "black", true], [sr2pEx, "red", true], [sr1dEx, "black"], [sr2dEx, "red"]],
        legend: [[605, 290, 338, 345, "Sr1:p (x4)", "black", true], [605, 438, 487, 493, "Sr1:d", "black"],
                 [633, 290, 338, 345, "Sr2:p (x4)", "red", true], [633, 438, 487, 493, "Sr2:d", "red"]]}
];

function styleAxis(g, size) {
    g.select(".domain").remove();
    g.attr("font-family", serif).attr("font-size", size);
    g.selectAll(".tick line").attr("stroke", "#000").attr("stroke-width", 1.2);
}

panels.forEach((p, i) => {
    const y0 = aTop + i * panelH;
    const y = d3.scaleLinear().domain([0, p.ymax]).range([y0 + panelH, y0]);
    const g = svg.append("g");

    g.append("clipPath").attr("id", "clip" + i)
        .append("rect").attr("x", aLeft).attr("y", y0).attr("width", aRight - aLeft).attr("height", panelH);
    const plot = g.append("g").attr("clip-path", `url(#clip${i})`);

    if (p.fill) {
        const area = d3.area()
            .x((d, j) => p.x(p.fill[1][j]))
            .y0(y(0))
            .y1(d => y(d));
        plot.append("path").attr("d", area(p.fill[0])).attr("fill", "#c6c6c6");
    }

    p.lines.forEach(([vals, c, dashed]) => {
        const line = d3.line()
            .x((d, j) => p.x(p.grid[j]))
            .y(d => y(d));
        plot.append("path")
            .attr("d", line(vals))
            .attr("fill", "none")
            .attr("stroke", col[c])
            .attr("stroke-width", 1.8)
            .attr("stroke-linejoin", "round")
            .attr("stroke-dasharray", dashed ? "5,4" : null);
    });

    // frame
    g.append("rect")
        .attr("x", aLeft).attr("y", y0).attr("width", aRight - aLeft).attr("height", panelH)
        .attr("fill", "none").attr("stroke", "#000").attr("stroke-width", 1.5);

    // y axis
    g.append("g").attr("transform", `translate(${aLeft},0)`)
        .call(d3.axisLeft(y).tickValues(p.major).tickFormat(p.fmt).tickSizeInner(9).tickSizeOuter(0).tickPadding(4))
        .call(a => styleAxis(a, 20));
    g.append("g").attr("transform", `translate(${aLeft},0)`)
        .call(d3.axisLeft(y).tickValues(p.minor).tickFormat("").tickSizeInner(5).tickSizeOuter(0))
        .call(a => styleAxis(a, 20));

    // ticks along the lower edge of the panel (except the last one)
    if (i < 5) {
        const step = p.x === xEm ? 0.5 : 1.25;
        const vals = d3.range(p.x.domain()[0], p.x.domain()[1] + 0.001, step);
        g.append("g").attr("transform", `translate(0,${y0 + panelH})`)
            .call(d3.axisBottom(p.x).tickValues(vals).tickFormat("").tickSizeInner(4).tickSizeOuter(0))
            .call(a => styleAxis(a, 20));
    }

    // legend
    p.legend.forEach(([ly, x1, x2, tx, label, c, dashed]) => {
        g.append("line")
            .attr("x1", x1).attr("x2", x2).attr("y1", ly).attr("y2", ly)
            .attr("stroke", col[c]).attr("stroke-width", 1.8)
            .attr("stroke-dasharray", dashed ? "5,4" : null);
        g.append("text")
            .attr("x", tx).attr("y", ly + 7)
            .attr("font-size", 21)
            .text(label);
    });

    (p.greek || []).forEach(([t, gx, gy]) => {
        g.append("text")
            .attr("x", gx).attr("y", gy + 7)
            .attr("text-anchor", "middle")
            .attr("font-size", 22)
            .text(t);
    });
});

// top axis: emission energy
svg.append("g").attr("transform", `translate(0,${aTop})`)
    .call(d3.axisTop(xEm).tickValues(d3.range(-6, 1.01, 1)).tickFormat(d3.format("d")).tickSizeInner(8).tickSizeOuter(0).tickPadding(6))
    .call(a => styleAxis(a, 20));
svg.append("g").attr("transform", `translate(0,${aTop})`)
    .call(d3.axisTop(xEm).tickValues(d3.range(-6.5, 1, 1)).tickFormat("").tickSizeInner(4).tickSizeOuter(0))
    .call(a => styleAxis(a, 20));

// bottom axis: excitation energy
svg.append("g").attr("transform", `translate(0,${aBottom})`)
    .call(d3.axisBottom(xEx).tickValues([5, 10, 15, 20, 25, 30]).tickFormat(d3.format("d")).tickSizeInner(8).tickSizeOuter(0).tickPadding(5))
    .call(a => styleAxis(a, 20));
svg.append("g").attr("transform", `translate(0,${aBottom})`)
    .call(d3.axisBottom(xEx).tickValues(d3.range(2.5, 30, 1.25).filter(v => v % 5 !== 0)).tickFormat("").tickSizeInner(4).tickSizeOuter(0))
    .call(a => styleAxis(a, 20));

svg.append("text").attr("x", 316).attr("y", 25).attr("text-anchor", "middle").attr("font-size", 24)
    .text("Emission Energy (eV)");
svg.append("text").attr("x", 316).attr("y", 757).attr("text-anchor", "middle").attr("font-size", 24)
    .text("Excitation Energy (eV)");
svg.append("text").attr("transform", "translate(38,387) rotate(-90)").attr("text-anchor", "middle").attr("font-size", 24)
    .text("Density of States (states/atom/eV)");
svg.append("text").attr("x", 268).attr("y", 799).attr("text-anchor", "middle").attr("font-size", 25)
    .text("(a)");

// ---------------- part (b): band structure ----------------
const bLeft = 608, bRight = 1052, bTop = 65, bBottom = 711;
const bx = d3.scaleLinear().domain([0, 1]).range([bLeft, bRight]);
const by = d3.scaleLinear().domain([-6, 8]).range([bBottom, bTop]);
const bGroup = svg.append("g");

bGroup.append("clipPath").attr("id", "clipBands")
    .append("rect").attr("x", bLeft).attr("y", bTop).attr("width", bRight - bLeft).attr("height", bBottom - bTop);

const symPos = kPos.filter((d, i) => i % 2 === 0);

// high-symmetry lines
bGroup.selectAll(".kline")
    .data(symPos.slice(1, -1))
    .enter().append("line")
    .attr("class", "kline")
    .attr("x1", d => bx(d)).attr("x2", d => bx(d))
    .attr("y1", bTop).attr("y2", bBottom)
    .attr("stroke", "#000").attr("stroke-width", 1);

const bandLine = d3.line()
    .x((d, j) => bx(kPos[j]))
    .y(d => by(d))
    .curve(d3.curveMonotoneX);

const bandPlot = bGroup.append("g").attr("clip-path", "url(#clipBands)");
[valenceBands, conductionBands].forEach(set => {
    set.forEach((band, i) => {
        bandPlot.append("path")
            .attr("d", bandLine(band))
            .attr("fill", "none")
            .attr("stroke", bandColors[i % bandColors.length])
            .attr("stroke-width", 2);
    });
});

// Fermi level
bGroup.append("line")
    .attr("x1", bLeft).attr("x2", bRight).attr("y1", by(0)).attr("y2", by(0))
    .attr("stroke", "#000").attr("stroke-width", 1.6).attr("stroke-dasharray", "8,5");

bGroup.append("rect")
    .attr("x", bLeft).attr("y", bTop).attr("width", bRight - bLeft).attr("height", bBottom - bTop)
    .attr("fill", "none").attr("stroke", "#000").attr("stroke-width", 1.5);

// energy ticks, drawn inward on both sides
bGroup.append("g").attr("transform", `translate(${bLeft},0)`)
    .call(d3.axisLeft(by).tickValues(d3.range(-6, 8.01, 1)).tickFormat(d3.format("d")).tickSizeInner(-8).tickSizeOuter(0).tickPadding(6))
    .call(a => styleAxis(a, 20));
bGroup.append("g").attr("transform", `translate(${bLeft},0)`)
    .call(d3.axisLeft(by).tickValues(d3.range(-5.5, 8, 1)).tickFormat("").tickSizeInner(-4).tickSizeOuter(0))
    .call(a => styleAxis(a, 20));
bGroup.append("g").attr("transform", `translate(${bRight},0)`)
    .call(d3.axisRight(by).tickValues(d3.range(-6, 8.01, 1)).tickFormat("").tickSizeInner(-8).tickSizeOuter(0))
    .call(a => styleAxis(a, 20));
bGroup.append("g").attr("transform", `translate(${bRight},0)`)
    .call(d3.axisRight(by).tickValues(d3.range(-5.5, 8, 1)).tickFormat("").tickSizeInner(-4).tickSizeOuter(0))
    .call(a => styleAxis(a, 20));

bGroup.selectAll(".klabel")
    .data(kLabels)
    .enter().append("text")
    .attr("class", "klabel")
    .attr("x", (d, i) => bx(symPos[i]))
    .attr("y", 729)
    .attr("text-anchor", "middle")
    .attr("font-size", 20)
    .text(d => d);

const ef = bGroup.append("text").attr("x", 1057).attr("y", by(0) + 9).attr("font-size", 23);
ef.append("tspan").text("E");
ef.append("tspan").attr("font-size", 15).attr("dy", 5).text("F");

bGroup.append("text").attr("x", 830).attr("y", 757).attr("text-anchor", "middle").attr("font-size", 24)
    .text("Crystal Momentum");
bGroup.append("text").attr("transform", "translate(578,386) rotate(-90)").attr("text-anchor", "middle").attr("font-size", 24)
    .text("Energy (eV)");
bGroup.append("text").attr("x", 807).attr("y", 799).attr("text-anchor", "middle").attr("font-size", 25)
    .text("(b)");

</script>
</body>
</html>
